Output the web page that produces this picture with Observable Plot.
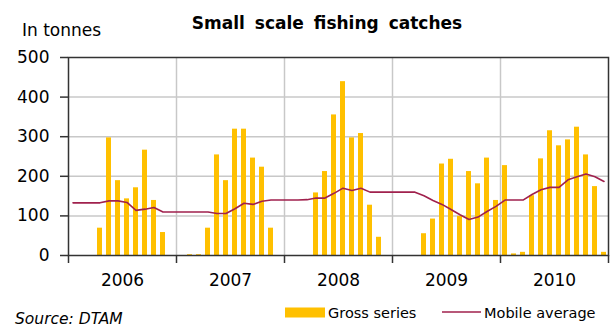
<!DOCTYPE html>
<html>
<head>
<meta charset="utf-8">
<script src="https://cdn.jsdelivr.net/npm/d3@7"></script>
<script src="https://cdn.jsdelivr.net/npm/@observablehq/plot@0.6"></script>
<style>
  html, body { margin: 0; padding: 0; background: #fff; }
  svg { display: block; }
</style>
</head>
<body>
<div id="chart"></div>
<script>
const years = ["2006", "2007", "2008", "2009", "2010"];
const yTicks = [0, 100, 200, 300, 400, 500];
// Monthly gross catches (tonnes), Jan 2006 .. Dec 2010
const gross = [
  0, 0, 0, 69, 297, 189, 143, 171, 266, 139, 58, 0,
  0, 2, 2, 69, 254, 189, 319, 319, 246, 223, 69, 0,
  0, 0, 0, 158, 212, 355, 439, 297, 308, 127, 46, 0,
  0, 0, 0, 55, 92, 231, 243, 99, 212, 181, 246, 139,
  227, 4, 8, 151, 244, 315, 277, 292, 324, 254, 174, 8
];
// Mobile (moving) average
const mobile = [
  133, 133, 133, 133, 138, 138, 134, 114, 117, 121, 110, 110,
  110, 110, 110, 110, 106, 106, 118, 132, 129, 137, 140, 140,
  140, 140, 141, 145, 145, 157, 170, 164, 170, 160, 160, 160,
  160, 160, 160, 151, 139, 129, 116, 103, 91, 97, 111, 124,
  140, 140, 140, 154, 166, 172, 172, 191, 199, 206, 199, 187
];

const data = gross.map((v, i) => ({i, v, m: mobile[i]}));
const yearBounds = years.map((y, k) => k * 12).concat([years.length * 12]);
const innerBounds = yearBounds.slice(1, -1);

const W = 616, H = 329;
const plot = Plot.plot({
  width: W,
  height: H,
  marginLeft: 68,
  marginRight: 8,
  marginTop: 57,
  marginBottom: 74,
  style: {fontFamily: "DejaVu Sans, Verdana, sans-serif", fontSize: "17px", color: "#000", background: "#fff"},
  x: {type: "linear", domain: [0, gross.length], label: null},
  y: {domain: [0, 500], label: null},
  marks: [
    Plot.ruleY(yTicks.slice(1, -1), {stroke: "#c8c8c8", strokeWidth: 1.5}),
    Plot.ruleX(innerBounds, {stroke: "#c8c8c8", strokeWidth: 1.5}),
    Plot.rectY(data, {x1: d => d.i, x2: d => d.i + 1, y: "v", insetLeft: 2, insetRight: 2, fill: "#FFC000"}),
    Plot.lineY(data, {x: d => d.i + 0.5, y: "m", stroke: "#A0214D", strokeWidth: 1.6}),
    Plot.frame({stroke: "#333", strokeWidth: 1.5}),
    Plot.axisY({ticks: yTicks, tickSize: 8, tickPadding: 11, stroke: "#333", strokeWidth: 1.5, fill: "#000", label: null}),
    Plot.axisX({ticks: yearBounds, tickSize: 8, tickFormat: () => "", stroke: "#333", strokeWidth: 1.5, label: null}),
    Plot.text(years, {x: (d, k) => k * 12 + 6, frameAnchor: "bottom", dy: 30, text: d => d, fontSize: 17, fill: "#000"})
  ]
});

document.getElementById("chart").appendChild(plot);

const svg = d3.select(plot);
const font = "DejaVu Sans, Verdana, sans-serif";
svg.append("text")
  .attr("x", 327).attr("y", 29)
  .attr("text-anchor", "middle")
  .attr("font-family", font)
  .attr("font-weight", "bold")
  .attr("font-size", 17)
  .attr("word-spacing", 4)
  .attr("fill", "#000")
  .text("Small scale fishing catches");
svg.append("text")
  .attr("x", 22).attr("y", 36)
  .attr("text-anchor", "start")
  .attr("font-family", font)
  .attr("font-size", 17)
  .attr("fill", "#000")
  .text("In tonnes");
// legend
svg.append("rect")
  .attr("x", 285).attr("y", 307.5).attr("width", 40).attr("height", 10)
  .attr("fill", "#FFC000");
svg.append("text")
  .attr("x", 328).attr("y", 318)
  .attr("text-anchor", "start")
  .attr("font-family", font)
  .attr("font-size", 14.5)
  .attr("fill", "#000")
  .text("Gross series");
svg.append("line")
  .attr("x1", 442).attr("x2", 481).attr("y1", 312).attr("y2", 312)
  .attr("stroke", "#A0214D").attr("stroke-width", 1.6);
svg.append("text")
  .attr("x", 484).attr("y", 318)
  .attr("text-anchor", "start")
  .attr("font-family", font)
  .attr("font-size", 14.5)
  .attr("fill", "#000")
  .text("Mobile average");
svg.append("text")
  .attr("x", 15).attr("y", 324)
  .attr("text-anchor", "start")
  .attr("font-family", font)
  .attr("font-style", "italic")
  .attr("font-size", 15.5)
  .attr("fill", "#000")
  .text("Source: DTAM");
</script>
</body>
</html>
